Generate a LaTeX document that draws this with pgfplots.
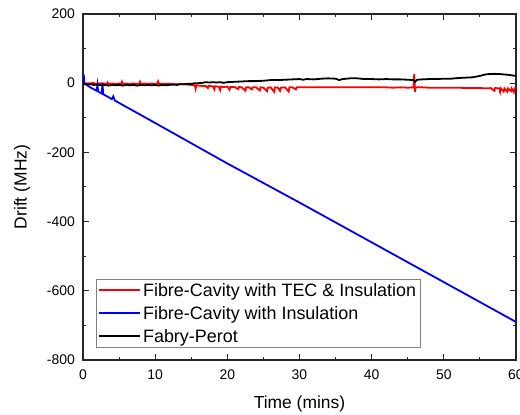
\documentclass[border=0pt]{standalone}
\usepackage{pgfplots}
\pgfplotsset{compat=1.18}
\usepackage{fontspec}
\setmainfont{Liberation Sans}
\pgfplotsset{
  legend image code/.code={\draw[#1, line width=1.8bp] (0bp,0bp) -- (41bp,0bp);},
}
\begin{document}
\begin{tikzpicture}
\begin{axis}[
  scale only axis,
  width=433bp, height=346bp,
  xmin=0, xmax=60, ymin=-800, ymax=200,
  xtick={0,10,...,60}, ytick={-800,-600,...,200},
  minor tick num=1,
  tick align=inside,
  major tick length=6bp, minor tick length=3bp,
  axis line style={line width=1.2bp, black!85},
  every tick/.style={line width=1bp, black!85},
  /pgf/number format/assume math mode=true,
  ticklabel style={font=\fontsize{14}{16}\selectfont},
  yticklabel style={inner sep=0pt, xshift=-8bp},
  xticklabel style={inner sep=0pt, yshift=-10bp},
  xlabel={Time (mins)}, ylabel={Drift (MHz)},
  label style={font=\fontsize{17.5}{20}\selectfont},
  xlabel style={at={(axis description cs:0.5,-0.102)}, anchor=north, inner sep=0pt},
  ylabel style={at={(axis description cs:-0.16,0.5)}, anchor=north, inner sep=0pt},
  legend style={at={(axis description cs:0.03,0.035)}, anchor=south west,
    font=\fontsize{18}{22}\selectfont, draw=black!50, line width=0.6bp,
    inner xsep=2bp, inner ysep=2bp, row sep=4.5bp,
    /tikz/every even column/.append style={column sep=0bp}},
  legend cell align=left,
  clip=true,
]
\addplot[red, line width=1.8bp] coordinates {
(0,0)(0.05,3)(0.2,-1)(0.6,0)(1,-1)(1.4,1)(1.8,-2)(2.2,-1)(2.6,0)(3,-1)(3.3,-2)(3.4,2)(3.5,-2)(4,-1)(4.5,-2)(5,-1)(5.3,-2)(5.4,4)(5.5,-2)(6,-1)(6.5,-2)(7,-1)(7.5,-2)(7.8,-1)(7.9,4)(8,-2)(8.5,-1)(9,-2)(9.5,-1)(10,-2)(10.3,-1)(10.4,5)(10.5,-2)(11,-2)(12,-2)(13,-3)(13.5,-2)(14,-3)(14.5,-4)(15,-5)(15.5,-6)(15.6,-16)(15.7,-6)(16,-7)(16.5,-8)(17,-8)(17.3,-14)(17.4,-8)(18,-9)(18.2,-18)(18.3,-9)(18.8,-10)(19,-20)(19.1,-10)(19.5,-11)(20,-10)(20.3,-19)(20.4,-11)(21,-11)(21.5,-17)(21.6,-11)(22,-12)(22.5,-22)(22.6,-12)(23,-12)(23.4,-18)(23.5,-12)(24,-12)(24.5,-21)(24.6,-12)(25,-13)(25.5,-23)(25.6,-13)(26,-12)(26.5,-25)(26.6,-12)(27,-13)(27.3,-22)(27.4,-13)(28,-12)(28.5,-24)(28.6,-12)(29,-12)(29.5,-18)(29.6,-12)(30,-12)(31,-12)(32,-12)(33,-12)(34,-12)(35,-12)(36,-12)(37,-12)(38,-12)(39,-12)(40,-12)(41,-12)(42,-12)(43,-13)(44,-12)(45,-13)(45.8,-12)(45.9,27)(46,-25)(46.1,-12)(47,-12)(48,-13)(49,-13)(50,-13)(51,-13)(52,-13)(53,-14)(54,-14)(55,-14)(56,-15)(56.5,-14)(57,-22)(57.1,-14)(57.7,-15)(57.8,-25)(57.9,-15)(58.3,-24)(58.4,-15)(58.8,-25)(58.9,-15)(59.3,-23)(59.4,-15)(59.7,-26)(59.8,-15)(60,-15)
};
\addlegendentry{Fibre-Cavity with TEC \& Insulation}
\addplot[blue, line width=1.8bp] coordinates {
(0,0)(0.1,25)(0.2,0)(1,-12)(1.9,-22)(2.0,-5)(2.1,-24)(2.6,-30)(2.7,0)(2.8,-32)(3.5,-40)(4,-46)(4.2,-38)(4.4,-50)(10,-115)(20,-232)(30,-345)(40,-460)(50,-575)(60,-690)
};
\addlegendentry{Fibre-Cavity with Insulation}
\addplot[black, line width=1.8bp] coordinates {
(0,-2)(0.5,-4)(1,-3)(1.5,-5)(2,-4)(2.5,-6)(3,-5)(3.5,-7)(4,-5)(4.5,-6)(5,-5)(5.5,-7)(6,-5)(6.5,-6)(7,-5)(7.5,-7)(8,-5)(8.5,-6)(9,-5)(9.5,-6)(10,-5)(10.5,-7)(11,-5)(11.5,-6)(12,-5)(12.5,-4)(13,-5)(13.5,-3)(14,-3)(14.5,-2)(15,-2)(15.5,0)(16,0)(16.5,1)(17,3)(17.5,2)(18,3)(18.5,2)(19,3)(19.5,1)(20,3)(21,4)(22,5)(23,6)(24,6)(25,7)(26,9)(27,9)(28,10)(29,11)(30,12)(30.5,10)(31,12)(32,11)(33,13)(34,14)(35,13)(35.5,9)(36,12)(37,14)(38,14)(39,12)(40,12)(41,11)(42,12)(43,11)(44,11)(45,10)(45.8,9)(46,4)(46.3,10)(47,11)(48,12)(49,12)(50,13)(51,13)(52,15)(53,16)(54,17)(55,21)(55.5,24)(56,26)(57,27)(58,26)(58.5,25)(59,24)(60,21)
};
\addlegendentry{Fabry-Perot}
\end{axis}
\pgfresetboundingbox
\path[use as bounding box] ([shift={(-83bp,-55bp)}]current axis.south west) rectangle ([shift={(4bp,14bp)}]current axis.north east);
\end{tikzpicture}
\end{document}
